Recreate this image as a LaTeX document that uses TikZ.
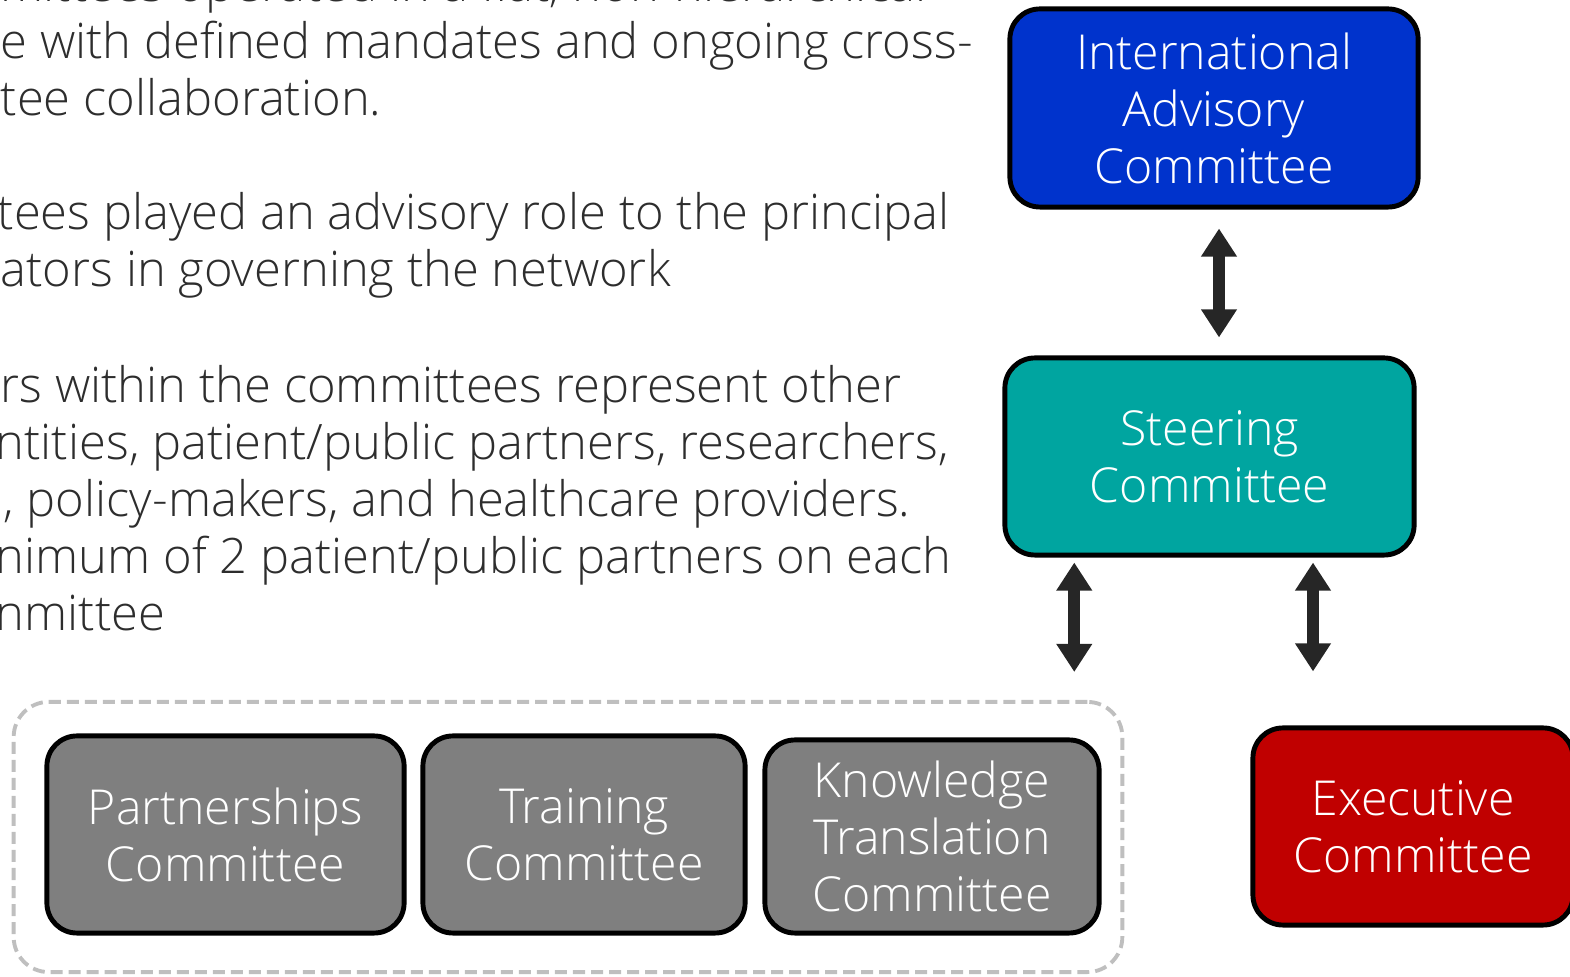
\documentclass[tikz,border=0pt]{standalone}
\usepackage{fontspec}
\setmainfont{Open Sans}[UprightFont=* Light]
\usetikzlibrary{arrows.meta}

\definecolor{iacblue}{RGB}{0,51,204}
\definecolor{scteal}{RGB}{0,165,160}
\definecolor{subgray}{RGB}{127,127,127}
\definecolor{execred}{RGB}{192,0,0}
\definecolor{textgray}{RGB}{45,45,45}
\definecolor{dashgray}{RGB}{191,191,191}
\definecolor{arrowgray}{RGB}{38,38,38}

\tikzset{
  committee/.style={draw=black, line width=1.4pt, rounded corners=0.3cm,
    text=white, align=center, inner sep=0pt,
    font=\fontsize{13.7}{16.2}\selectfont},
  linkarrow/.style={draw=arrowgray, line width=0.12cm,
    {Triangle[width=0.34cm,length=0.28cm]}-{Triangle[width=0.34cm,length=0.28cm]}},
  bodytext/.style={anchor=base west, inner sep=0pt, text=textgray,
    font=\fontsize{13.9}{16.2}\selectfont}
}

\begin{document}
\begin{tikzpicture}[x=0.01cm, y=-0.01cm]
    \useasboundingbox (0,0) rectangle (1570,977);

    % text on the left, cut by the page edge
    \foreach \ypos/\xpos/\txt[count=\i] in {
        2/0/{mittees operated in a flat, non-hierarchical},
        59/0/{e with defined mandates and ongoing cross-},
        116/0/{tee collaboration.},
        230/-3/{tees played an advisory role to the principal},
        287/0/{ators in governing the network},
        403/0/{rs within the committees represent other},
        460/-5/{ntities, patient/public partners, researchers,},
        517/3/{, policy-makers, and healthcare providers.},
        574/-5/{nimum of 2 patient/public partners on each},
        631/-5/{nmittee}} {
        \node[bodytext] (line\i) at (\xpos, \ypos) {\txt};
    }

    % committees
    \node[committee, fill=iacblue, minimum width=4.08cm, minimum height=1.98cm]
        (iac) at (1214, 108) {International\\Advisory\\Committee};
    \node[committee, fill=scteal, minimum width=4.09cm, minimum height=1.97cm]
        (steering) at (1209.5, 456.5) {Steering\\Committee};

    \node[draw=dashgray, line width=1.1pt, dash pattern=on 0.12cm off 0.06cm,
        rounded corners=0.35cm, minimum width=11.08cm, minimum height=2.70cm]
        (working) at (568, 837) {};

    \node[committee, fill=subgray, minimum width=3.57cm, minimum height=1.97cm]
        (partnerships) at (225.5, 834.5) {Partnerships\\Committee};
    \node[committee, fill=subgray, minimum width=3.22cm, minimum height=1.97cm]
        (training) at (584, 834.5) {Training\\Committee};
    \node[committee, fill=subgray, minimum width=3.34cm, minimum height=1.93cm]
        (kt) at (932, 836.5) {Knowledge\\Translation\\Committee};
    \node[committee, fill=execred, minimum width=3.20cm, minimum height=1.97cm]
        (executive) at (1413, 826.5) {Executive\\Committee};

    % links
    \draw[linkarrow, shorten <=0.19cm, shorten >=0.18cm]
        ([xshift=0.05cm]iac.south) coordinate (itop) -- (itop |- steering.north);
    \draw[linkarrow, shorten <=0.05cm, shorten >=0.28cm]
        (steering.south -| working.north east) ++(-50,0) coordinate (wtop) -- (wtop |- working.north);
    \draw[linkarrow, shorten <=0.05cm, shorten >=0.54cm]
        (steering.south -| executive.north) ++(-100,0) coordinate (etop) -- (etop |- executive.north);
\end{tikzpicture}
\end{document}
